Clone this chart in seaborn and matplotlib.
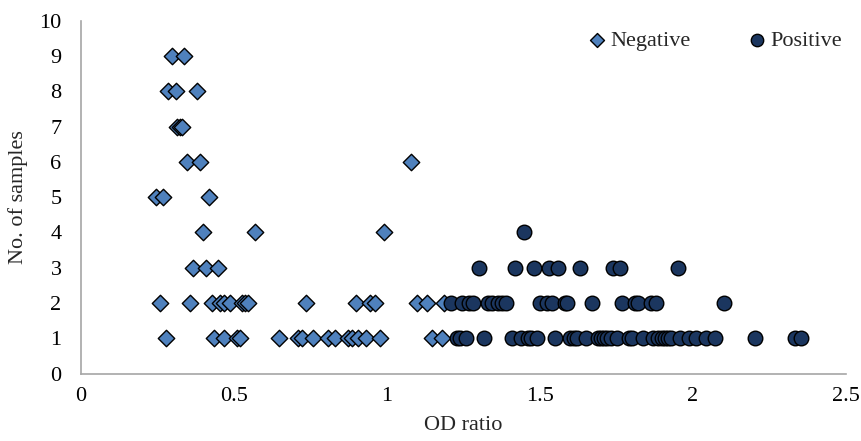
import matplotlib
matplotlib.use("Agg")
import matplotlib.pyplot as plt
import pandas as pd
import seaborn as sns

# OD ratio / number of samples
neg_od = [0.297, 0.337,
          0.285, 0.309, 0.378,
          0.315, 0.322, 0.330,
          0.346, 0.389, 1.078,
          0.244, 0.269, 0.418,
          0.398, 0.569, 0.989,
          0.367, 0.408, 0.449,
          0.258, 0.357, 0.427, 0.454, 0.467, 0.487, 0.525, 0.536, 0.547,
          0.737, 0.899, 0.944, 0.961, 1.097, 1.130, 1.187,
          0.278, 0.436, 0.467, 0.509, 0.520, 0.647, 0.710, 0.721, 0.759,
          0.806, 0.830, 0.874, 0.885, 0.906, 0.931, 0.979, 1.149, 1.180]
neg_n = [9, 9,
         8, 8, 8,
         7, 7, 7,
         6, 6, 6,
         5, 5, 5,
         4, 4, 4,
         3, 3, 3,
         2, 2, 2, 2, 2, 2, 2, 2, 2,
         2, 2, 2, 2, 2, 2, 2,
         1, 1, 1, 1, 1, 1, 1, 1, 1,
         1, 1, 1, 1, 1, 1, 1, 1, 1]

pos_od = [1.450,
          1.300, 1.420, 1.480, 1.529, 1.561, 1.630, 1.740, 1.761, 1.951,
          1.211, 1.247, 1.269, 1.280, 1.331, 1.345, 1.364, 1.378, 1.391,
          1.500, 1.522, 1.541, 1.582, 1.590, 1.671, 1.770, 1.810, 1.822,
          1.865, 1.881, 2.101,
          1.228, 1.238, 1.260, 1.318, 1.410, 1.440, 1.462, 1.470, 1.491,
          1.551, 1.600, 1.611, 1.622, 1.650, 1.689, 1.699, 1.710, 1.721,
          1.732, 1.751, 1.791, 1.802, 1.836, 1.870, 1.887, 1.898, 1.908,
          1.919, 1.930, 1.960, 1.988, 2.010, 2.045, 2.072, 2.203, 2.333,
          2.353]
pos_n = [4,
         3, 3, 3, 3, 3, 3, 3, 3, 3,
         2, 2, 2, 2, 2, 2, 2, 2, 2,
         2, 2, 2, 2, 2, 2, 2, 2, 2,
         2, 2, 2,
         1, 1, 1, 1, 1, 1, 1, 1, 1,
         1, 1, 1, 1, 1, 1, 1, 1, 1,
         1, 1, 1, 1, 1, 1, 1, 1, 1,
         1, 1, 1, 1, 1, 1, 1, 1, 1,
         1]

groups = ["Negative", "Positive"]
colors = {"Negative": "#4F81BD", "Positive": "#1B365F"}
markers = {"Negative": "D", "Positive": "o"}

df = pd.concat(
    [
        pd.DataFrame({"od": neg_od, "n": neg_n, "group": "Negative"}),
        pd.DataFrame({"od": pos_od, "n": pos_n, "group": "Positive"}),
    ],
    ignore_index=True,
)

sns.set_style("white")
plt.rcParams["font.family"] = ["Liberation Serif", "DejaVu Serif"]

fig = plt.figure(figsize=(8.62, 4.41), dpi=100)
ax = fig.add_axes([0.094, 0.153, 0.887, 0.80])

for g in groups:
    sub = df[df["group"] == g]
    sns.scatterplot(
        data=sub, x="od", y="n", ax=ax,
        color=colors[g], marker=markers[g],
        s=70 if g == "Negative" else 110,
        edgecolor="black", linewidth=1.0,
        label=g, zorder=3,
    )

ax.set_xlim(0, 2.5)
ax.set_ylim(0, 10)
ax.set_xticks([0, 0.5, 1, 1.5, 2, 2.5])
ax.set_xticklabels(["0", "0.5", "1", "1.5", "2", "2.5"])
ax.set_yticks(range(0, 11))
ax.tick_params(length=0, labelsize=16, colors="black")
ax.tick_params(axis="x", pad=10)
ax.tick_params(axis="y", pad=14)
ax.set_xlabel("OD ratio", fontsize=16, labelpad=7)
ax.set_ylabel("No. of samples", fontsize=16, labelpad=8)

for side in ["top", "right"]:
    ax.spines[side].set_visible(False)
for side in ["left", "bottom"]:
    ax.spines[side].set_color("#A6A6A6")
    ax.spines[side].set_linewidth(1.2)

leg = ax.legend(
    loc="upper right", bbox_to_anchor=(1.022, 1.03), ncol=2, frameon=False,
    fontsize=16, handlelength=0.8, handletextpad=0.2, columnspacing=2.6,
    markerscale=0.85,
)

fig.savefig("out.png", dpi=100)
